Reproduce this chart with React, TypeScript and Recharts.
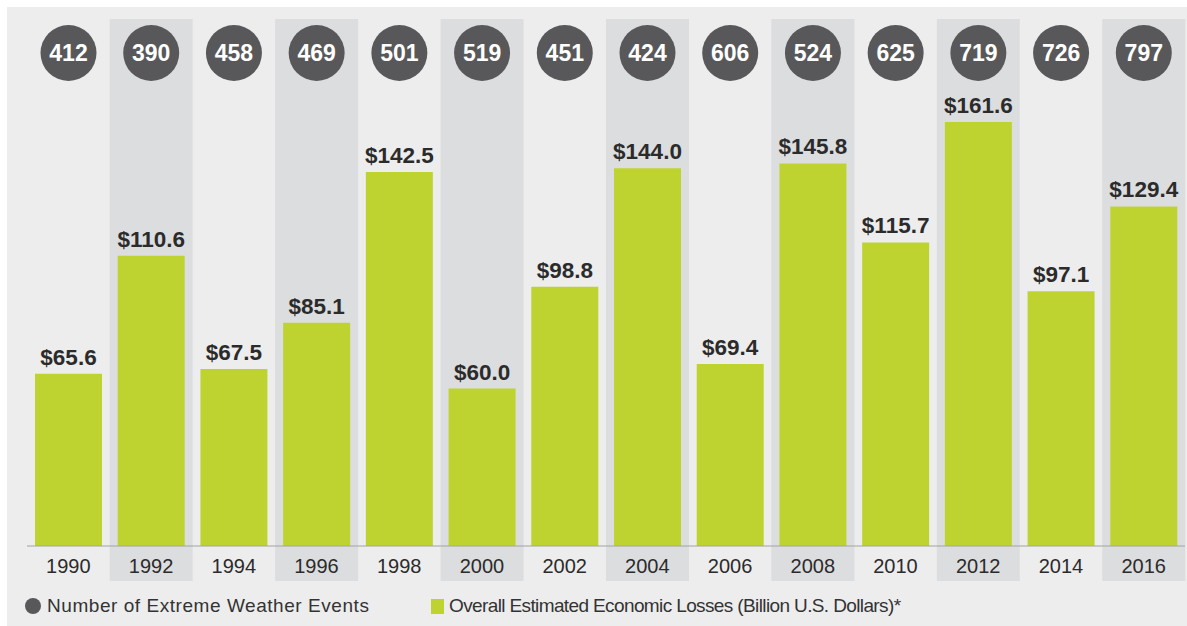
import { Bar, ComposedChart, LabelList, Legend, ReferenceLine, XAxis, YAxis } from "recharts";

const years = ["1990", "1992", "1994", "1996", "1998", "2000", "2002", "2004", "2006", "2008", "2010", "2012", "2014", "2016"];
const losses = [65.6, 110.6, 67.5, 85.1, 142.5, 60.0, 98.8, 144.0, 69.4, 145.8, 115.7, 161.6, 97.1, 129.4];
const events = [412, 390, 458, 469, 501, 519, 451, 424, 606, 524, 625, 719, 726, 797];

// domain stretched below zero so the shaded columns can run under the year labels
const Y_MIN = -13.34;
const Y_MAX = 200.85;

const BAR = "#bfd330";
const BUBBLE = "#58585a";
const BAND = "#dcdddf";
const TEXT = "#2b2b2b";
const FONT = "'Liberation Sans', Arial, Helvetica, sans-serif";

const BUBBLE_Y = 53;
const BUBBLE_R = 28;

const data = years.map((year, i) => ({
  year,
  losses: losses[i],
  events: events[i],
  band: i % 2 === 1 ? [Y_MIN, Y_MAX] : null,
}));

const EventBubble = (props: any) => {
  const vb = props.viewBox || {};
  const x = props.x ?? vb.x;
  const width = props.width ?? vb.width;
  const cx = x + width / 2;
  return (
    <g>
      <circle cx={cx} cy={BUBBLE_Y} r={BUBBLE_R} fill={BUBBLE} />
      <text
        x={cx}
        y={BUBBLE_Y}
        dy="0.36em"
        textAnchor="middle"
        fill="#ffffff"
        fontSize={23}
        fontWeight={700}
        fontFamily={FONT}
      >
        {props.value}
      </text>
    </g>
  );
};

const YearTick = ({ x, y, payload }: any) => (
  <text x={x} y={y - 15} dy="0.36em" textAnchor="middle" fill={TEXT} fontSize={20} fontFamily={FONT}>
    {payload.value}
  </text>
);

const LegendContent = () => (
  <div style={{ position: "relative", height: 30, fontFamily: FONT, fontSize: 19, color: "#333" }}>
    <div style={{ position: "absolute", left: 25, top: 0, height: 30, display: "flex", alignItems: "center" }}>
      <span style={{ width: 16, height: 16, borderRadius: 8, background: BUBBLE, marginRight: 6, display: "inline-block" }} />
      <span style={{ letterSpacing: 0.55 }}>Number of Extreme Weather Events</span>
    </div>
    <div style={{ position: "absolute", left: 431, top: 0, height: 30, display: "flex", alignItems: "center" }}>
      <span style={{ width: 13, height: 15, background: BAR, marginRight: 5, display: "inline-block" }} />
      <span style={{ letterSpacing: -0.62 }}>Overall Estimated Economic Losses (Billion U.S. Dollars)*</span>
    </div>
  </div>
);

export default function App() {
  return (
    <div style={{ position: "absolute", left: 0, top: 0, width: 1187, height: 626, background: "#fff", fontFamily: FONT }}>
      <div style={{ position: "absolute", left: 7, top: 7, width: 1180, height: 619, background: "#ededed" }} />
      <div style={{ position: "absolute", left: 0, top: 0 }}>
        <ComposedChart
          width={1187}
          height={626}
          data={data}
          margin={{ top: 19, right: 2, left: 27, bottom: 5 }}
          barCategoryGap={0}
          barGap={0}
        >
          <XAxis
            xAxisId="main"
            dataKey="year"
            height={10}
            axisLine={false}
            tickLine={false}
            tickSize={0}
            tickMargin={0}
            interval={0}
            tick={<YearTick />}
          />
          <XAxis xAxisId="band" dataKey="year" height={0} hide />
          <YAxis hide domain={[Y_MIN, Y_MAX]} allowDataOverflow />
          <Legend
            verticalAlign="bottom"
            height={30}
            wrapperStyle={{ left: 0, width: 1187 }}
            content={<LegendContent />}
          />
          <Bar xAxisId="band" dataKey="band" fill={BAND} isAnimationActive={false} />
          <Bar xAxisId="main" dataKey="losses" fill={BAR} barSize={67} isAnimationActive={false}>
            <LabelList
              dataKey="losses"
              position="top"
              offset={9}
              formatter={(v: any) => `$${Number(v).toFixed(1)}`}
              fill={TEXT}
              fontSize={22.5}
              fontWeight={700}
              fontFamily={FONT}
            />
            <LabelList dataKey="events" content={<EventBubble />} />
          </Bar>
          <ReferenceLine xAxisId="main" y={0} stroke="#a3a3a3" strokeWidth={1.2} ifOverflow="visible" />
        </ComposedChart>
      </div>
    </div>
  );
}
